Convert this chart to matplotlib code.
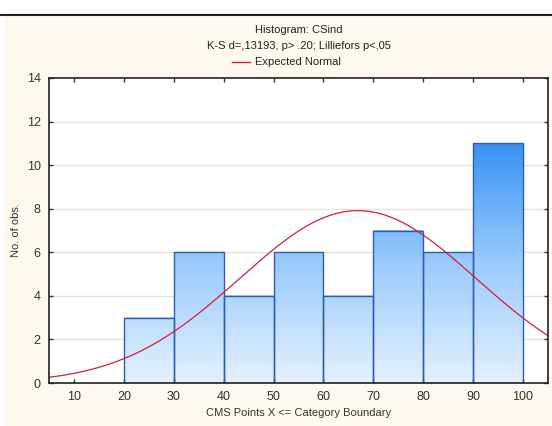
import numpy as np
import matplotlib
matplotlib.use("Agg")
import matplotlib.pyplot as plt
from matplotlib import font_manager
from matplotlib.colors import LinearSegmentedColormap
from matplotlib.lines import Line2D

# Histogram categories: upper boundaries (X <= boundary) and counts
upper_bounds = [30, 40, 50, 60, 70, 80, 90, 100]
counts = [3, 6, 4, 6, 4, 7, 6, 11]
bin_width = 10
x_ticks = [10, 20, 30, 40, 50, 60, 70, 80, 90, 100]
y_ticks = [0, 2, 4, 6, 8, 10, 12, 14]

# Fitted normal distribution parameters
fit_mean = 66.9
fit_sd = 23.7

title_lines = ["Histogram: CSind", "K-S d=,13193, p> .20; Lilliefors p<,05"]
legend_label = "Expected Normal"
x_label = "CMS Points X <= Category Boundary"
y_label = "No. of obs."

installed = {f.name for f in font_manager.fontManager.ttflist}
narrow = "Liberation Sans Narrow" in installed
text_family = ["Liberation Sans Narrow" if narrow else "Liberation Sans", "DejaVu Sans"]
text_size = 9 if narrow else 8
plt.rcParams['font.family'] = ['Liberation Sans', 'DejaVu Sans']

fig = plt.figure(figsize=(5.52, 4.26), dpi=100)
fig.patch.set_facecolor("#FDF9EF")

# white margins and dark rule along the top of the figure
fig.add_artist(plt.Rectangle((0, 1 - 13 / 426), 1, 13 / 426, transform=fig.transFigure,
                             facecolor="white", edgecolor="none", zorder=0))
fig.add_artist(plt.Rectangle((0, 0), 4 / 552, 1, transform=fig.transFigure,
                             facecolor="white", edgecolor="none", zorder=0))
fig.add_artist(Line2D([0, 1], [1 - 14.5 / 426] * 2, transform=fig.transFigure,
                      color="#222222", lw=1.5))

ax = fig.add_axes([49 / 552, 1 - 383 / 426, 499 / 552, 305 / 426])
ax.set_facecolor("white")

# horizontal grid
for yv in y_ticks[1:-1]:
    ax.axhline(yv, color="#E2E2E2", lw=1, zorder=0)

# gradient-filled bars
cmap = LinearSegmentedColormap.from_list("bars", ["#E4F1FF", "#9ACBFB", "#3A92F4"])
vmax = max(counts)
for ub, h in zip(upper_bounds, counts):
    left = ub - bin_width
    grad = np.linspace(0, h, 200)[::-1].reshape(-1, 1)
    ax.imshow(grad, extent=(left, ub, 0, h), cmap=cmap, vmin=0, vmax=vmax,
              aspect="auto", zorder=1, interpolation="bilinear")
    ax.add_patch(plt.Rectangle((left, 0), bin_width, h, facecolor="none",
                               edgecolor="#2C5DB5", lw=1.0, zorder=2))

ax.set_xlim(5, 105)
ax.set_ylim(0, 14)

# expected normal curve
total = sum(counts)
xs = np.linspace(5, 105, 400)
ys = total * bin_width / (fit_sd * np.sqrt(2 * np.pi)) * np.exp(-0.5 * ((xs - fit_mean) / fit_sd) ** 2)
ax.plot(xs, ys, color="#D0203A", lw=0.9, zorder=3)

ax.set_xticks(x_ticks)
ax.set_yticks(y_ticks)
ax.tick_params(direction="in", length=3, width=1, colors="#333333", labelsize=9,
               top=True, right=True, pad=6)
for s in ax.spines.values():
    s.set_color("#222222")
    s.set_linewidth(1.2)
    s.set_zorder(4)

ax.set_xlabel(x_label, fontsize=text_size, family=text_family, color="#333333", labelpad=3)
ax.set_ylabel(y_label, fontsize=text_size, family=text_family, color="#333333", labelpad=4)

cx = (49 + 548) / 2 / 552
fig.text(cx, 1 - 30 / 426, title_lines[0], ha="center", va="center",
         fontsize=text_size, family=text_family, color="#222222")
fig.text(cx, 1 - 46 / 426, title_lines[1], ha="center", va="center",
         fontsize=text_size, family=text_family, color="#222222")
fig.add_artist(Line2D([232 / 552, 250 / 552], [1 - 62 / 426] * 2, transform=fig.transFigure,
                      color="#D0203A", lw=1))
fig.text(255 / 552, 1 - 62 / 426, legend_label, ha="left", va="center",
         fontsize=text_size, family=text_family, color="#222222")

fig.savefig("out.png", dpi=100, facecolor=fig.get_facecolor())
